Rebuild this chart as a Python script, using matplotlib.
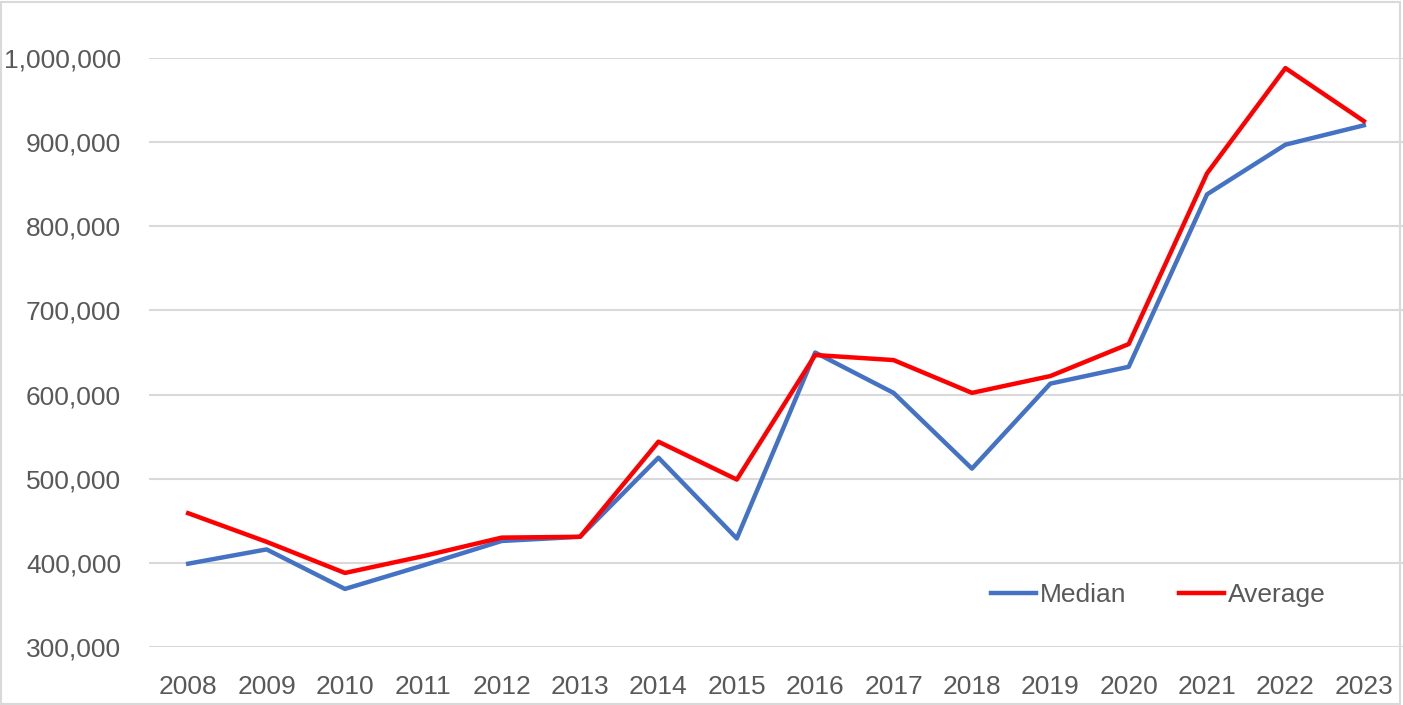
import matplotlib.pyplot as plt
from matplotlib.patches import Rectangle
from matplotlib.ticker import FuncFormatter

# values
years = [str(y) for y in range(2008, 2024)]
median = [399000, 416000, 369000, 397000, 426000, 431000, 525000, 429000,
          650000, 602000, 512000, 613000, 633000, 838000, 897000, 920000]
average = [459000, 425000, 388000, 408000, 430000, 431000, 544000, 499000,
           647000, 641000, 602000, 622000, 660000, 863000, 988000, 925000]
y_ticks = [300000, 400000, 500000, 600000, 700000, 800000, 900000, 1000000]

plt.rcParams['font.family'] = ['Liberation Sans', 'DejaVu Sans']
grey_text = '#595959'
grid_col = '#d9d9d9'

fig = plt.figure(figsize=(14.03, 7.05), dpi=100)
ax = fig.add_axes([149 / 1403, 58 / 705, 1254 / 1403, 589 / 705])

x = range(len(years))
ax.plot(x, median, color='#4472C4', lw=3.2, label='Median', solid_joinstyle='round')
ax.plot(x, average, color='#FF0000', lw=3.2, label='Average', solid_joinstyle='round')

ax.set_xlim(-0.5, len(years) - 0.5)
ax.set_ylim(300000, 1000000)
ax.set_yticks(y_ticks)
ax.yaxis.set_major_formatter(FuncFormatter(lambda v, p: f'{int(v):,}'))
ax.set_xticks(list(x))
ax.set_xticklabels(years)

for s in ax.spines.values():
    s.set_visible(False)
ax.grid(axis='y', color=grid_col, lw=1.5)
ax.set_axisbelow(True)
ax.tick_params(length=0, labelsize=19, colors=grey_text)
ax.tick_params(axis='y', pad=20)
ax.tick_params(axis='x', pad=20)

ax.legend(loc='center', bbox_to_anchor=(0.805, 0.088), ncol=2, frameon=False,
          fontsize=19, labelcolor=grey_text, handlelength=1.7,
          handletextpad=0.15, columnspacing=2.0)

fig.patches.append(Rectangle((0.001, 0.002), 0.997, 0.995, transform=fig.transFigure,
                             fill=False, edgecolor=grid_col, lw=1.5))

fig.savefig('out.png', dpi=100)
